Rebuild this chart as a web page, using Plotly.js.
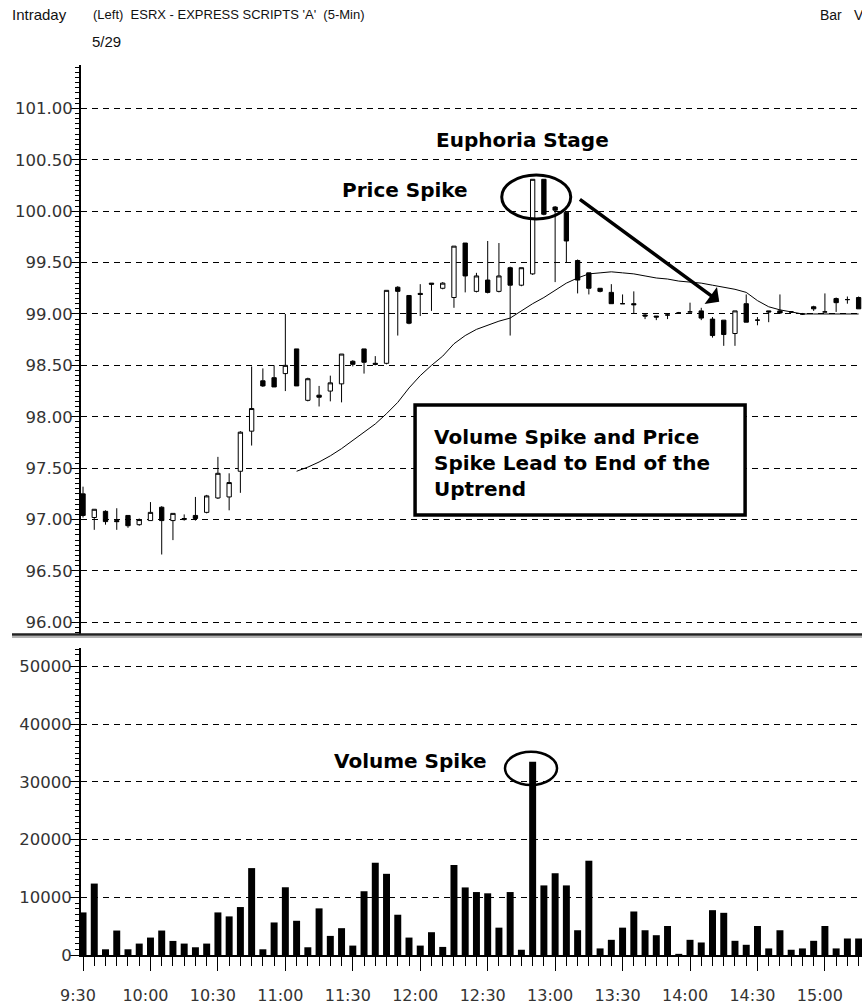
<!DOCTYPE html>
<html><head><meta charset="utf-8">
<script src="https://cdn.plot.ly/plotly-3.0.1.min.js"></script>
<style>body{margin:0;background:#fff}#chart{width:862px;height:1008px}</style>
</head><body><div id="chart"></div>
<script>
// ---- data (5-minute bars, index 0 = 9:30) ----
const timeLabels = ["9:30","10:00","10:30","11:00","11:30","12:00","12:30","13:00","13:30","14:00","14:30","15:00"];
const timeTickIdx = [0,6,12,18,24,30,36,42,48,54,60,66];

const openP  = [97.25,97.02,97.08,96.99,97.04,96.95,96.99,97.12,96.99,97.00,
                97.04,97.07,97.21,97.22,97.47,97.86,98.35,98.38,98.42,98.66,
                98.16,98.21,98.25,98.32,98.54,98.66,98.52,98.52,99.26,99.18,
                99.20,99.30,99.25,99.16,99.69,99.22,99.33,99.22,99.45,99.28,
                99.39,100.31,100.04,99.99,99.52,99.40,99.25,99.21,99.10,99.10,
                98.99,98.98,98.99,99.01,99.02,99.03,98.95,98.94,98.81,99.10,
                98.94,99.03,99.03,99.02,99.00,99.07,99.02,99.15,99.14,99.16];
const highP  = [97.32,97.10,97.09,97.11,97.04,97.01,97.17,97.13,97.06,97.05,
                97.22,97.24,97.61,97.45,97.86,98.49,98.47,98.50,99.00,98.66,
                98.38,98.30,98.40,98.61,98.55,98.66,98.59,99.23,99.27,99.18,
                99.29,99.30,99.31,99.66,99.69,99.40,99.71,99.69,99.46,99.45,
                100.31,100.31,100.05,100.00,99.53,99.40,99.25,99.29,99.19,99.22,
                99.00,98.98,99.00,99.02,99.11,99.06,98.97,98.94,99.03,99.19,
                98.97,99.03,99.19,99.02,99.01,99.08,99.20,99.16,99.17,99.17];
const lowP   = [97.02,96.90,96.95,96.90,96.92,96.94,96.99,96.66,96.80,96.99,
                96.99,97.06,97.20,97.09,97.26,97.72,98.29,98.29,98.25,98.30,
                98.15,98.10,98.15,98.14,98.49,98.42,98.50,98.51,98.79,98.90,
                98.98,99.03,99.24,99.06,99.21,99.21,99.20,99.21,98.79,99.27,
                99.38,99.96,99.31,99.50,99.20,99.19,99.21,99.10,99.10,99.00,
                98.95,98.94,98.95,99.00,99.02,98.94,98.77,98.69,98.69,98.92,
                98.89,98.92,99.00,99.01,98.99,99.03,99.02,99.02,99.10,99.05];
const closeP = [97.04,97.10,96.98,96.98,96.94,97.00,97.07,96.99,97.06,97.01,
                97.01,97.23,97.45,97.36,97.85,98.08,98.30,98.29,98.50,98.30,
                98.37,98.19,98.33,98.61,98.51,98.53,98.51,99.23,99.22,98.91,
                99.19,99.29,99.30,99.66,99.37,99.37,99.21,99.37,99.28,99.45,
                100.31,99.97,100.01,99.71,99.33,99.25,99.22,99.10,99.10,99.09,
                98.98,98.97,98.99,99.01,99.02,98.96,98.79,98.80,99.03,98.92,
                98.94,99.02,99.01,99.02,99.00,99.05,99.02,99.11,99.14,99.05];
const volume = [7380,12380,990,4240,990,1980,3020,4240,2440,1980,
                1340,1980,7380,6690,8310,15060,990,5640,11740,5930,
                1340,8080,3310,4650,1630,11050,15990,14070,6980,3020,
                1630,3950,1400,15600,11710,10910,10690,4740,10910,910,
                33490,12060,14170,12060,4290,16340,1140,2630,4740,7540,
                4290,3430,5030,200,2630,2170,7770,7310,2460,1770,
                5030,1140,4290,910,1140,2460,5030,1140,2860,2860];
const maStart = 19;
const maValues = [97.47,97.51,97.56,97.62,97.69,97.77,97.85,97.93,98.03,98.14,
                  98.28,98.40,98.50,98.59,98.71,98.79,98.85,98.89,98.93,98.96,
                  99.03,99.10,99.16,99.23,99.30,99.35,99.39,99.40,99.41,99.40,
                  99.39,99.37,99.35,99.34,99.32,99.31,99.30,99.28,99.26,99.24,
                  99.21,99.13,99.07,99.04,99.02,99.00,99.00,99.00,99.00,99.00,99.00];

const barIdx = openP.map((_, i) => i);
const maIdx = maValues.map((_, i) => i + maStart);

const tickFont = {family: 'DejaVu Sans', size: 16.5, color: '#333'};
const boldFont = (s) => ({family: 'DejaVu Sans', size: s, color: '#000', weight: 'bold'});
const headFont = (s) => ({family: 'Liberation Sans', size: s, color: '#111'});

const traces = [
  {type: 'bar', x: barIdx, y: volume, xaxis: 'x', yaxis: 'y',
   marker: {color: '#000', line: {width: 0}}, hoverinfo: 'skip'},
  {type: 'candlestick', x: barIdx, open: openP, high: highP, low: lowP, close: closeP,
   xaxis: 'x', yaxis: 'y2', whiskerwidth: 0,
   increasing: {line: {color: '#000', width: 1}, fillcolor: '#fff'},
   decreasing: {line: {color: '#000', width: 1}, fillcolor: '#000'},
   hoverinfo: 'skip'},
  {type: 'scatter', mode: 'lines', x: maIdx, y: maValues, xaxis: 'x', yaxis: 'y2',
   line: {color: '#000', width: 1}, hoverinfo: 'skip'}
];

const H = 955; // plot-area bottom in px
const py = (p) => (H - p) / H;          // page px -> paper y
const px = (p) => (p - 81) / 781;       // page px -> paper x

const gridCommon = {showgrid: true, gridcolor: '#000', gridwidth: 1, griddash: '6px,5px',
  zeroline: false, showline: true, linecolor: '#000', linewidth: 2,
  ticks: 'outside', tickcolor: '#000', tickwidth: 1, tickfont: tickFont,
  ticklabelstandoff: -5, fixedrange: true};

const layout = {
  width: 862, height: 1008,
  margin: {l: 81, r: 0, t: 0, b: 53},
  paper_bgcolor: '#fff', plot_bgcolor: '#fff',
  showlegend: false, bargap: 0.38, boxgap: 0.45,
  xaxis: {range: [-0.18, 69.3], anchor: 'y', rangeslider: {visible: false},
    showgrid: false, zeroline: false, showline: true, linecolor: '#000', linewidth: 1.5,
    ticks: 'outside', ticklen: 14, tickwidth: 1, tickcolor: '#000',
    tickmode: 'array', tickvals: timeTickIdx, ticktext: timeLabels,
    ticklabelshift: -5, ticklabelstandoff: 11, tickfont: {family: 'DejaVu Sans', size: 16, color: '#333'},
    minor: {tickmode: 'linear', tick0: 0, dtick: 1, ticklen: 9, tickcolor: '#000', tickwidth: 1, showgrid: false},
    fixedrange: true},
  yaxis: Object.assign({}, gridCommon, {domain: [0, py(648)], range: [0, 53206], anchor: 'x',
    tickmode: 'linear', tick0: 0, dtick: 10000, tickformat: 'd', ticklen: 9,
    minor: {tickmode: 'linear', tick0: 0, dtick: 1000, ticklen: 4, tickcolor: '#000', showgrid: false}}),
  yaxis2: Object.assign({}, gridCommon, {domain: [py(635), py(65)], range: [95.877, 101.422], anchor: 'x',
    tickmode: 'linear', tick0: 96, dtick: 0.5, tickformat: '.2f', ticklen: 8,
    minor: {tickmode: 'linear', tick0: 96, dtick: 0.05, ticklen: 4, tickcolor: '#000', showgrid: false}}),
  shapes: [
    {type: 'line', xref: 'paper', yref: 'paper', x0: px(12), x1: 1, y0: py(634.5), y1: py(634.5),
     line: {color: '#222', width: 2.5}},
    {type: 'line', xref: 'paper', yref: 'paper', x0: px(12), x1: 1, y0: py(637), y1: py(637),
     line: {color: '#999', width: 1.5}},
    {type: 'rect', xref: 'x', yref: 'y2', x0: 29.54, x1: 58.9, y0: 97.045, y1: 98.114,
     line: {color: '#000', width: 3.5}, fillcolor: '#fff'},
    {type: 'circle', xref: 'x', yref: 'y2', x0: 37.25, x1: 43.39, y0: 99.924, y1: 100.352,
     line: {color: '#000', width: 3}},
    {type: 'circle', xref: 'x', yref: 'y', x0: 37.54, x1: 42.17, y0: 29463, y1: 35234,
     line: {color: '#000', width: 2.5}}
  ],
  annotations: [
    {xref: 'paper', yref: 'paper', x: px(10), y: py(15), xanchor: 'left', yanchor: 'middle',
     text: 'Intraday', showarrow: false, font: headFont(15)},
    {xref: 'paper', yref: 'paper', x: px(90), y: py(42), xanchor: 'left', yanchor: 'middle',
     text: '5/29', showarrow: false, font: headFont(15)},
    {xref: 'paper', yref: 'paper', x: px(91), y: py(15), xanchor: 'left', yanchor: 'middle',
     text: "(Left)  ESRX - EXPRESS SCRIPTS 'A'  (5-Min)", showarrow: false, font: headFont(13)},
    {xref: 'paper', yref: 'paper', x: px(818), y: py(15), xanchor: 'left', yanchor: 'middle',
     text: 'Bar', showarrow: false, font: headFont(14)},
    {xref: 'paper', yref: 'paper', x: px(852), y: py(15), xanchor: 'left', yanchor: 'middle',
     text: 'V', showarrow: false, font: headFont(14)},
    {xref: 'x', yref: 'y2', x: 39.06, y: 100.693, text: 'Euphoria Stage', showarrow: false,
     xanchor: 'center', yanchor: 'middle', font: boldFont(20)},
    {xref: 'x', yref: 'y2', x: 28.65, y: 100.206, text: 'Price Spike', showarrow: false,
     xanchor: 'center', yanchor: 'middle', font: boldFont(20)},
    {xref: 'x', yref: 'y', x: 29.09, y: 33622, text: 'Volume Spike', showarrow: false,
     xanchor: 'center', yanchor: 'middle', font: boldFont(20)},
    {xref: 'x', yref: 'y2', x: 31.05, y: 97.553, xanchor: 'left', yanchor: 'middle', align: 'left',
     text: 'Volume Spike and Price<br>Spike Lead to End of the<br>Uptrend', showarrow: false,
     font: boldFont(20)},
    {xref: 'x', yref: 'y2', x: 56.6, y: 99.12, axref: 'x', ayref: 'y2', ax: 44.07, ay: 100.125,
     text: '', showarrow: true, arrowhead: 1, arrowsize: 1, arrowwidth: 3.5, arrowcolor: '#000', standoff: 0}
  ]
};

Plotly.newPlot('chart', traces, layout, {staticPlot: true, displayModeBar: false});
</script>
</body></html>
